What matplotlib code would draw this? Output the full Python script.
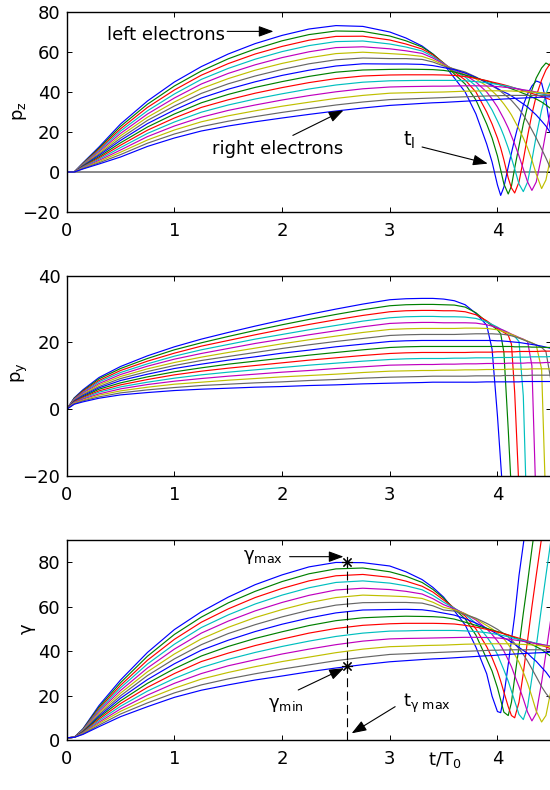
import matplotlib
matplotlib.use('Agg')
import matplotlib.pyplot as plt

plt.rcParams['font.family'] = ['DejaVu Sans']
plt.rcParams['mathtext.fontset'] = 'dejavusans'
plt.rcParams['mathtext.default'] = 'regular'

# ---------------- data ----------------
T_EARLY = [0.0, 0.07, 0.15, 0.3, 0.5, 0.75, 1.0, 1.25, 1.5, 1.75, 2.0, 2.25,
           2.5, 2.75, 3.0, 3.15, 3.3, 3.4, 3.5]
T_LATE = [3.6, 3.7, 3.8, 3.9, 3.95, 4.0, 4.03, 4.06, 4.1, 4.13, 4.16, 4.2,
          4.24, 4.28, 4.32, 4.36, 4.41, 4.45, 4.5]

PZ_EARLY = [
 [0, 0, 4.5, 12.5, 24.0, 35.5, 45.0, 52.7, 59.0, 64.2, 68.3, 71.5, 73.2, 72.8, 70.0, 67.0, 63.0, 59.0, 54.0],
 [0, 0, 4.3, 11.9, 22.8, 33.9, 43.0, 50.5, 56.6, 61.5, 65.6, 68.7, 70.5, 70.3, 68.0, 65.6, 62.5, 59.0, 54.5],
 [0, 0, 4.1, 11.3, 21.6, 32.3, 41.0, 48.4, 54.2, 59.0, 62.8, 65.9, 67.8, 67.9, 66.0, 64.0, 61.5, 58.5, 54.5],
 [0, 0, 3.9, 10.7, 20.5, 30.6, 39.0, 46.3, 51.8, 56.4, 60.2, 63.2, 65.2, 65.5, 64.0, 62.5, 60.5, 57.8, 54.3],
 [0, 0, 3.6, 10.1, 19.3, 29.0, 37.0, 44.0, 49.3, 53.6, 57.2, 60.1, 62.2, 62.6, 61.6, 60.6, 59.3, 57.0, 54.0],
 [0, 0, 3.4, 9.5, 18.1, 27.4, 35.0, 41.7, 46.7, 50.9, 54.3, 57.1, 59.2, 59.9, 59.2, 58.7, 57.8, 56.0, 53.5],
 [0, 0, 3.2, 8.9, 16.9, 25.8, 33.0, 39.3, 44.1, 48.0, 51.3, 54.1, 56.1, 57.0, 56.7, 56.7, 56.3, 55.0, 53.0],
 [0, 0, 3.0, 8.3, 15.8, 24.2, 31.0, 37.0, 41.4, 45.1, 48.3, 50.9, 53.0, 54.1, 54.0, 54.0, 53.8, 53.2, 52.2],
 [0, 0, 2.8, 7.6, 14.6, 22.5, 29.0, 34.6, 38.8, 42.3, 45.2, 47.8, 49.9, 51.0, 51.3, 51.4, 51.3, 51.2, 50.8],
 [0, 0, 2.6, 7.0, 13.4, 20.9, 27.0, 32.3, 36.1, 39.4, 42.2, 44.7, 46.7, 48.0, 48.5, 48.6, 48.6, 48.6, 48.5],
 [0, 0, 2.4, 6.4, 12.2, 19.3, 25.0, 29.9, 33.5, 36.5, 39.1, 41.5, 43.5, 44.9, 45.6, 45.7, 45.8, 45.8, 45.8],
 [0, 0, 2.1, 5.8, 11.0, 17.7, 23.0, 27.4, 30.8, 33.5, 36.0, 38.2, 40.1, 41.6, 42.5, 42.7, 42.8, 42.9, 42.9],
 [0, 0, 1.9, 5.2, 9.9, 16.0, 21.0, 25.1, 28.1, 30.6, 32.9, 34.9, 36.8, 38.3, 39.4, 39.6, 39.8, 39.9, 40.0],
 [0, 0, 1.7, 4.6, 8.7, 14.4, 19.0, 22.7, 25.4, 27.7, 29.8, 31.7, 33.5, 35.0, 36.2, 36.5, 36.8, 37.0, 37.2],
 [0, 0, 1.5, 4.0, 7.5, 12.8, 17.0, 20.5, 23.0, 25.1, 27.0, 28.8, 30.5, 32.0, 33.3, 33.8, 34.3, 34.6, 34.8],
]
PZ_LATE = [
 [47.0, 40.0, 29.0, 14.0, 5.0, -6.5, -11.7, -7.5, 2.5, 9.5, 16.5, 25.0, 33.5, 39.0, 43.0, 45.5, 44.5, 36.0, 18.0],
 [49.0, 44.0, 36.0, 24.0, 17.0, 8.0, 1.0, -6.0, -11.0, -7.0, 2.0, 13.0, 24.0, 33.0, 41.0, 47.0, 52.0, 54.5, 53.0],
 [50.0, 46.0, 40.0, 30.0, 24.0, 17.0, 12.0, 6.0, -3.0, -8.0, -10.5, -5.0, 6.0, 18.0, 29.0, 38.0, 46.0, 51.0, 55.0],
 [50.5, 47.5, 43.0, 35.5, 31.0, 25.5, 22.0, 18.0, 12.0, 7.0, 1.5, -6.0, -9.8, -5.0, 6.0, 18.0, 31.0, 39.0, 46.0],
 [51.0, 48.5, 45.0, 40.0, 36.5, 32.5, 29.5, 26.5, 22.0, 18.0, 14.0, 8.0, 1.5, -5.0, -9.2, -5.0, 8.0, 20.0, 32.0],
 [51.3, 49.3, 46.5, 43.0, 40.5, 38.0, 36.0, 34.0, 31.0, 28.5, 25.5, 21.5, 17.0, 12.0, 6.0, -1.0, -8.3, -4.0, 9.0],
 [51.5, 50.0, 47.5, 44.5, 43.0, 41.5, 40.3, 39.0, 37.3, 35.8, 34.0, 31.5, 28.5, 25.0, 21.0, 17.0, 11.5, 7.0, 1.0],
 [51.2, 49.5, 47.3, 44.8, 43.4, 41.8, 40.8, 40.0, 39.0, 38.0, 37.0, 35.5, 34.0, 32.5, 30.5, 28.5, 25.5, 23.0, 19.0],
 [50.0, 48.5, 47.0, 45.5, 44.7, 44.0, 43.5, 43.0, 42.2, 41.6, 41.0, 40.2, 39.3, 38.5, 37.5, 36.5, 35.0, 33.5, 31.5],
 [48.3, 47.7, 46.8, 45.7, 45.0, 44.4, 44.0, 43.6, 43.0, 42.5, 42.0, 41.3, 40.6, 40.0, 39.3, 38.6, 37.8, 37.0, 36.0],
 [45.8, 45.6, 45.2, 44.6, 44.2, 43.8, 43.5, 43.2, 42.8, 42.4, 42.0, 41.5, 41.0, 40.5, 40.0, 39.5, 39.0, 38.5, 38.0],
 [43.0, 43.1, 43.1, 43.0, 42.9, 42.7, 42.6, 42.4, 42.2, 42.0, 41.8, 41.5, 41.1, 40.8, 40.4, 40.0, 39.6, 39.2, 38.8],
 [40.2, 40.4, 40.5, 40.6, 40.6, 40.6, 40.6, 40.6, 40.5, 40.5, 40.4, 40.3, 40.2, 40.1, 40.0, 39.8, 39.6, 39.4, 39.2],
 [37.4, 37.6, 37.8, 38.0, 38.1, 38.1, 38.2, 38.2, 38.2, 38.3, 38.3, 38.3, 38.3, 38.3, 38.3, 38.3, 38.3, 38.3, 38.3],
 [35.1, 35.4, 35.7, 36.0, 36.1, 36.3, 36.4, 36.5, 36.6, 36.7, 36.8, 36.9, 37.0, 37.1, 37.2, 37.3, 37.4, 37.5, 37.6],
]

PY_EARLY = [
 [0, 3.4, 5.8, 9.5, 12.8, 16.0, 18.7, 21.0, 23.0, 24.9, 26.7, 28.4, 30.0, 31.5, 32.8, 33.1, 33.2, 33.2, 33.0],
 [0, 3.3, 5.5, 9.1, 12.2, 15.2, 17.8, 19.9, 21.8, 23.6, 25.3, 26.9, 28.4, 29.8, 31.0, 31.3, 31.4, 31.4, 31.3],
 [0, 3.1, 5.3, 8.6, 11.6, 14.4, 16.8, 18.9, 20.6, 22.3, 23.9, 25.4, 26.8, 28.1, 29.2, 29.5, 29.6, 29.6, 29.5],
 [0, 3.0, 5.0, 8.2, 11.0, 13.6, 15.9, 17.8, 19.4, 21.0, 22.4, 23.8, 25.1, 26.4, 27.4, 27.7, 27.8, 27.8, 27.7],
 [0, 2.9, 4.8, 7.7, 10.4, 12.9, 15.0, 16.7, 18.2, 19.7, 21.0, 22.3, 23.5, 24.7, 25.7, 25.9, 26.0, 26.0, 25.9],
 [0, 2.7, 4.5, 7.3, 9.8, 12.1, 14.0, 15.6, 17.0, 18.3, 19.6, 20.8, 21.9, 23.0, 23.9, 24.1, 24.2, 24.2, 24.2],
 [0, 2.6, 4.3, 6.8, 9.2, 11.3, 13.1, 14.6, 15.8, 17.0, 18.2, 19.3, 20.3, 21.2, 22.1, 22.3, 22.4, 22.4, 22.4],
 [0, 2.5, 4.0, 6.4, 8.6, 10.5, 12.2, 13.5, 14.7, 15.7, 16.8, 17.7, 18.7, 19.5, 20.3, 20.5, 20.6, 20.6, 20.6],
 [0, 2.3, 3.7, 6.0, 7.9, 9.7, 11.2, 12.4, 13.5, 14.4, 15.3, 16.2, 17.0, 17.8, 18.5, 18.7, 18.8, 18.8, 18.8],
 [0, 2.2, 3.5, 5.5, 7.3, 8.9, 10.3, 11.4, 12.3, 13.1, 13.9, 14.7, 15.4, 16.1, 16.7, 16.9, 17.0, 17.0, 17.0],
 [0, 2.0, 3.2, 5.1, 6.7, 8.1, 9.3, 10.3, 11.1, 11.8, 12.5, 13.2, 13.8, 14.4, 14.9, 15.1, 15.2, 15.2, 15.2],
 [0, 1.9, 3.0, 4.6, 6.1, 7.4, 8.4, 9.2, 9.9, 10.5, 11.1, 11.6, 12.2, 12.7, 13.2, 13.3, 13.4, 13.4, 13.5],
 [0, 1.8, 2.7, 4.2, 5.5, 6.6, 7.5, 8.1, 8.7, 9.2, 9.7, 10.1, 10.5, 11.0, 11.4, 11.5, 11.6, 11.6, 11.7],
 [0, 1.6, 2.5, 3.7, 4.9, 5.8, 6.5, 7.1, 7.5, 7.9, 8.2, 8.6, 8.9, 9.3, 9.6, 9.7, 9.8, 9.9, 9.9],
 [0, 1.5, 2.2, 3.3, 4.3, 5.0, 5.6, 6.0, 6.3, 6.6, 6.8, 7.1, 7.3, 7.6, 7.8, 7.9, 8.0, 8.1, 8.1],
]
PY_LATE = [
 [32.5, 31.3, 28.7, 25.2, 18.0, -2.0, -16.0, -30.0, -45.0, -60, -60, -60, -60, -60, -60, -60, -60, -60, -60],
 [31.2, 30.6, 28.9, 26.2, 25.0, 23.8, 22.6, 17.0, -6.0, -25.0, -45.0, -60, -60, -60, -60, -60, -60, -60, -60],
 [29.5, 29.2, 28.3, 26.5, 25.3, 24.2, 23.6, 23.0, 22.2, 19.5, 5.0, -24.0, -50.0, -60, -60, -60, -60, -60, -60],
 [27.7, 27.6, 27.2, 26.2, 25.4, 24.6, 24.0, 23.5, 22.8, 22.3, 21.8, 20.3, 4.0, -40.0, -60, -60, -60, -60, -60],
 [25.9, 25.9, 25.8, 25.3, 24.9, 24.4, 24.0, 23.6, 23.0, 22.5, 22.1, 21.5, 21.0, 20.3, 13.0, -30.0, -60, -60, -60],
 [24.2, 24.3, 24.3, 24.2, 24.0, 23.8, 23.5, 23.2, 22.8, 22.4, 22.0, 21.4, 20.9, 20.4, 19.9, 19.2, 12.0, -30.0, -55.0],
 [22.4, 22.5, 22.6, 22.6, 22.6, 22.5, 22.5, 22.4, 22.2, 22.0, 21.7, 21.3, 20.8, 20.3, 19.8, 19.3, 18.5, 17.3, 8.0],
 [20.6, 20.6, 20.6, 20.6, 20.6, 20.5, 20.5, 20.4, 20.3, 20.2, 20.1, 20.0, 19.8, 19.6, 19.4, 19.2, 18.9, 18.6, 18.2],
 [18.8, 18.8, 18.8, 18.8, 18.8, 18.8, 18.8, 18.8, 18.8, 18.8, 18.7, 18.7, 18.7, 18.7, 18.6, 18.6, 18.6, 18.5, 18.5],
 [17.0, 17.0, 17.1, 17.1, 17.1, 17.2, 17.2, 17.2, 17.2, 17.2, 17.2, 17.3, 17.3, 17.3, 17.3, 17.3, 17.4, 17.4, 17.4],
 [15.3, 15.3, 15.4, 15.4, 15.4, 15.5, 15.5, 15.5, 15.5, 15.5, 15.6, 15.6, 15.6, 15.6, 15.7, 15.7, 15.7, 15.7, 15.8],
 [13.5, 13.6, 13.6, 13.7, 13.7, 13.7, 13.7, 13.7, 13.8, 13.8, 13.8, 13.8, 13.8, 13.9, 13.9, 13.9, 13.9, 14.0, 14.0],
 [11.7, 11.8, 11.8, 11.9, 11.9, 11.9, 11.9, 11.9, 12.0, 12.0, 12.0, 12.0, 12.0, 12.0, 12.1, 12.1, 12.1, 12.1, 12.1],
 [9.9, 9.9, 10.0, 10.0, 10.0, 10.0, 10.0, 10.1, 10.1, 10.1, 10.1, 10.1, 10.1, 10.1, 10.2, 10.2, 10.2, 10.2, 10.2],
 [8.1, 8.1, 8.1, 8.2, 8.2, 8.2, 8.2, 8.2, 8.2, 8.2, 8.2, 8.2, 8.3, 8.3, 8.3, 8.3, 8.3, 8.3, 8.3],
]

GAMMA_EARLY = [
 [1.0, 1.2, 5.0, 15.5, 27.0, 39.4, 49.7, 57.7, 64.3, 69.9, 74.3, 77.9, 79.9, 79.8, 78.3, 75.7, 72.2, 68.7, 64.3],
 [1.0, 1.2, 4.8, 14.8, 25.8, 37.7, 47.5, 55.3, 61.7, 66.9, 71.3, 74.8, 77.0, 77.4, 75.7, 73.7, 70.9, 67.8, 63.8],
 [1.0, 1.2, 4.6, 14.1, 24.6, 35.9, 45.3, 53.0, 59.0, 64.1, 68.2, 71.6, 73.9, 74.5, 73.2, 71.5, 69.2, 66.6, 63.0],
 [1.0, 1.2, 4.5, 13.5, 23.5, 34.2, 43.1, 50.6, 56.3, 61.2, 65.2, 68.5, 70.9, 71.6, 70.6, 69.4, 67.6, 65.1, 62.0],
 [1.0, 1.2, 4.3, 12.8, 22.3, 32.4, 40.9, 48.1, 53.5, 58.1, 61.9, 65.1, 67.5, 68.3, 67.7, 66.9, 65.7, 63.6, 60.9],
 [1.0, 1.2, 4.1, 12.1, 21.1, 30.7, 38.7, 45.5, 50.7, 55.1, 58.7, 61.8, 64.1, 65.2, 64.8, 64.5, 63.7, 62.0, 59.7],
 [1.0, 1.2, 3.9, 11.4, 19.9, 29.0, 36.5, 42.9, 47.9, 51.9, 55.4, 58.4, 60.7, 61.8, 61.9, 61.9, 61.6, 60.4, 58.5],
 [1.0, 1.2, 3.7, 10.7, 18.8, 27.2, 34.3, 40.4, 44.9, 48.8, 52.1, 54.9, 57.2, 58.5, 58.7, 58.8, 58.6, 58.0, 57.1],
 [1.0, 1.2, 3.6, 10.1, 17.6, 25.5, 32.1, 37.8, 42.1, 45.7, 48.7, 51.5, 53.7, 55.0, 55.5, 55.7, 55.6, 55.5, 55.2],
 [1.0, 1.2, 3.4, 9.4, 16.4, 23.7, 29.9, 35.3, 39.1, 42.5, 45.4, 48.1, 50.2, 51.6, 52.3, 52.5, 52.5, 52.5, 52.4],
 [1.0, 1.2, 3.2, 8.7, 15.2, 22.0, 27.7, 32.6, 36.3, 39.4, 42.1, 44.5, 46.6, 48.1, 49.0, 49.1, 49.3, 49.3, 49.3],
 [1.0, 1.2, 3.0, 8.0, 14.0, 20.2, 25.5, 29.9, 33.4, 36.1, 38.7, 40.9, 42.9, 44.5, 45.5, 45.7, 45.8, 45.9, 46.0],
 [1.0, 1.2, 2.9, 7.4, 12.9, 18.5, 23.3, 27.4, 30.4, 33.0, 35.3, 37.3, 39.3, 40.9, 42.0, 42.2, 42.5, 42.6, 42.7],
 [1.0, 1.2, 2.7, 6.7, 11.7, 16.7, 21.2, 24.8, 27.5, 29.8, 31.9, 33.8, 35.7, 37.2, 38.5, 38.8, 39.1, 39.3, 39.5],
 [1.0, 1.2, 2.5, 6.0, 10.5, 15.0, 19.2, 22.4, 24.8, 27.0, 28.8, 30.7, 32.4, 33.9, 35.2, 35.7, 36.2, 36.5, 36.7],
]
GAMMA_LATE = [
 [58.1, 51.8, 41.8, 29.8, 19.7, 12.8, 12.3, 20.0, 34.0, 45.0, 56.0, 74.0, 88.0, 102, 115, 125, 130, 135, 140],
 [59.0, 54.5, 47.2, 36.5, 31.0, 23.5, 18.0, 12.5, 11.0, 17.0, 28.0, 42.0, 57.0, 71.0, 86.0, 100, 115, 125, 135],
 [59.3, 55.8, 50.0, 42.0, 37.0, 31.0, 26.5, 21.5, 15.0, 11.0, 10.0, 17.0, 30.0, 45.0, 60.0, 74.0, 91.0, 105, 120],
 [59.3, 56.5, 52.5, 46.5, 43.0, 38.5, 35.0, 31.5, 26.5, 22.0, 17.5, 11.5, 9.2, 15.0, 28.0, 42.0, 60.0, 74.0, 91.0],
 [59.0, 56.8, 54.0, 50.0, 47.5, 44.5, 42.5, 40.0, 36.0, 33.0, 29.0, 24.0, 18.5, 12.5, 8.6, 12.0, 26.0, 39.0, 56.0],
 [58.6, 56.8, 54.5, 51.5, 50.0, 48.2, 47.0, 45.5, 43.0, 41.0, 38.5, 35.0, 30.5, 25.5, 19.5, 13.0, 8.1, 11.0, 23.0],
 [58.0, 56.5, 54.8, 52.5, 51.2, 49.8, 48.8, 47.8, 46.4, 45.0, 43.5, 41.0, 38.5, 35.5, 32.0, 28.5, 24.0, 21.0, 18.0],
 [56.2, 54.6, 52.6, 50.3, 49.0, 47.6, 46.7, 45.9, 45.0, 44.0, 43.1, 41.7, 40.3, 39.0, 37.1, 35.4, 32.7, 30.6, 27.3],
 [54.4, 53.0, 51.6, 50.2, 49.5, 48.8, 48.4, 47.9, 47.2, 46.6, 46.1, 45.3, 44.5, 43.8, 42.9, 42.0, 40.7, 39.3, 37.5],
 [52.2, 51.6, 50.8, 49.8, 49.2, 48.6, 48.2, 47.8, 47.3, 46.8, 46.4, 45.8, 45.2, 44.6, 43.9, 43.3, 42.6, 41.9, 41.0],
 [49.3, 49.1, 48.8, 48.3, 47.9, 47.5, 47.2, 46.9, 46.5, 46.1, 45.7, 45.3, 44.8, 44.4, 44.0, 43.5, 43.0, 42.6, 42.2],
 [46.1, 46.2, 46.2, 46.1, 46.0, 45.9, 45.8, 45.6, 45.4, 45.2, 45.0, 44.7, 44.4, 44.1, 43.7, 43.4, 43.0, 42.6, 42.2],
 [42.9, 43.1, 43.2, 43.3, 43.3, 43.3, 43.3, 43.3, 43.3, 43.3, 43.2, 43.1, 43.0, 42.9, 42.8, 42.6, 42.4, 42.2, 42.0],
 [39.7, 39.9, 40.1, 40.3, 40.4, 40.4, 40.5, 40.5, 40.5, 40.6, 40.6, 40.6, 40.6, 40.6, 40.6, 40.6, 40.6, 40.6, 40.6],
 [37.0, 37.3, 37.6, 37.9, 38.0, 38.2, 38.3, 38.4, 38.5, 38.6, 38.7, 38.8, 38.9, 39.0, 39.1, 39.2, 39.3, 39.4, 39.5],
]

T_GAMMA_MAX = 2.6
GAMMA_MAX = 80.0
GAMMA_MIN = 33.3

XTICKS = [0, 1, 2, 3, 4]
YTICKS_PZ = [-20, 0, 20, 40, 60, 80]
YTICKS_PY = [-20, 0, 20, 40]
YTICKS_G = [0, 20, 40, 60, 80]

# MATLAB-like colour order
COLORS = [(0, 0, 1), (0, 0.5, 0), (1, 0, 0), (0, 0.75, 0.75),
          (0.75, 0, 0.75), (0.75, 0.75, 0), (0.4, 0.4, 0.4)]

T = T_EARLY + T_LATE

# ---------------- figure ----------------
W, H = 550.0, 790.0
fig = plt.figure(figsize=(5.5, 7.9), dpi=100)


def rect(top, bot):
    return [66.7 / W, 1 - bot / H, (551.3 - 66.7) / W, (bot - top) / H]


ax1 = fig.add_axes(rect(12, 212))
ax2 = fig.add_axes(rect(275.7, 476))
ax3 = fig.add_axes(rect(540, 740))

FS = 13
for ax in (ax1, ax2, ax3):
    ax.set_xlim(0, 4.5)
    ax.set_xticks(XTICKS)
    ax.tick_params(direction='in', length=3.6, width=0.7, top=True, right=True,
                   labelsize=FS, colors='k')
    ax.tick_params(axis='x', pad=7)
    ax.tick_params(axis='y', pad=4.5)
    for s in ax.spines.values():
        s.set_linewidth(1.0)

ax1.set_ylim(-20, 80)
ax1.set_yticks(YTICKS_PZ)
ax2.set_ylim(-20, 40)
ax2.set_yticks(YTICKS_PY)
ax3.set_ylim(0, 90)
ax3.set_yticks(YTICKS_G)

ax1.axhline(0, color='0.5', lw=1.3, zorder=1.5)

for i in range(15):
    c = COLORS[i % 7]
    ax1.plot(T, PZ_EARLY[i] + PZ_LATE[i], color=c, lw=0.85)
    ax2.plot(T, PY_EARLY[i] + PY_LATE[i], color=c, lw=0.85)
    ax3.plot(T, GAMMA_EARLY[i] + GAMMA_LATE[i], color=c, lw=0.85)

AP = dict(arrowstyle='-|>,head_length=0.6,head_width=0.22', color='k', lw=0.8,
          mutation_scale=15, shrinkA=0, shrinkB=0)

# panel 1 annotations
ax1.text(1.47, 65.8, 'left electrons', ha='right', va='baseline', fontsize=FS)
ax1.annotate('', xy=(1.92, 70.3), xytext=(1.49, 70.3), arrowprops=AP)
ax1.text(1.346, 8.8, 'right electrons', ha='left', va='baseline', fontsize=FS)
ax1.annotate('', xy=(2.57, 30.8), xytext=(2.10, 18.3), arrowprops=AP)
ax1.text(3.12, 13.3, r'$t_l$', ha='left', va='baseline', fontsize=14)
ax1.annotate('', xy=(3.91, 4.2), xytext=(3.30, 12.5), arrowprops=AP)

# panel 3 annotations
ax3.plot([T_GAMMA_MAX, T_GAMMA_MAX], [0, GAMMA_MAX], color='k', lw=0.8,
         dashes=(8, 4), zorder=3)
ax3.plot([T_GAMMA_MAX, T_GAMMA_MAX], [GAMMA_MAX, GAMMA_MIN], ls='none',
         marker=(8, 2, 0), ms=8, mec='k', mfc='k', mew=0.8, zorder=4)
ax3.text(2.01, 81.0, r'$γ_{max}$', ha='right', va='baseline', fontsize=FS)
ax3.annotate('', xy=(2.57, 82.5), xytext=(2.07, 82.5), arrowprops=AP)
ax3.text(1.87, 14.4, r'$γ_{min}$', ha='left', va='baseline', fontsize=FS)
ax3.annotate('', xy=(2.575, 32.3), xytext=(2.15, 22.5), arrowprops=AP)
ax3.text(3.12, 14.9, r'$t_{γ\ max}$', ha='left', va='baseline', fontsize=FS)
ax3.annotate('', xy=(2.646, 3.0), xytext=(3.05, 15.0), arrowprops=AP)

# axis labels
fig.text(20 / W, 1 - 111 / H, r'$p_z$', rotation=90, ha='center', va='center', fontsize=FS)
fig.text(20 / W, 1 - 373 / H, r'$p_y$', rotation=90, ha='center', va='center', fontsize=FS)
fig.text(27 / W, 1 - 629 / H, 'γ', rotation=90, ha='center', va='center', fontsize=FS)
fig.text(428 / W, 1 - 765 / H, r'$t/T_0$', ha='left', va='baseline', fontsize=FS)

fig.savefig('out.png', dpi=100)
